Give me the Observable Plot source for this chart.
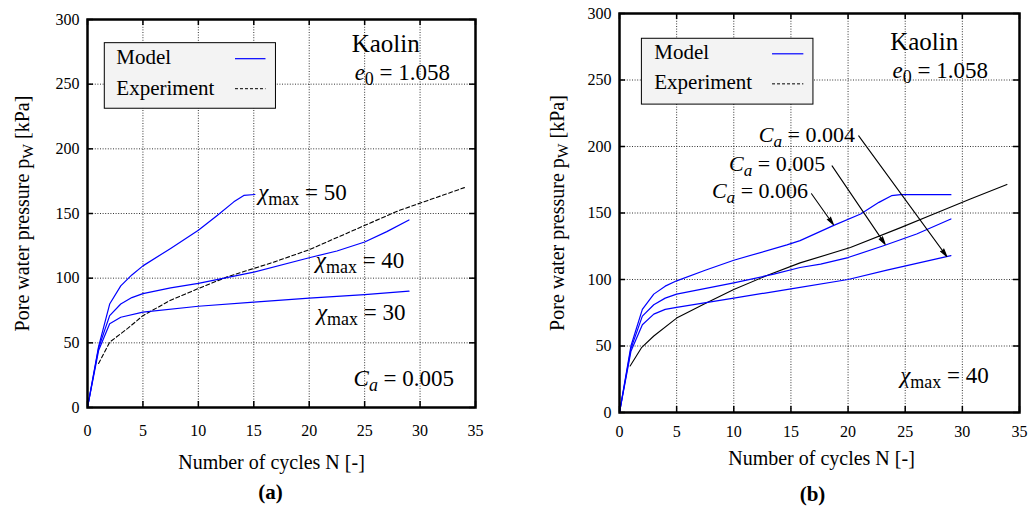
<!DOCTYPE html>
<html><head><meta charset="utf-8">
<script src="https://cdn.jsdelivr.net/npm/d3@7"></script>
<script src="https://cdn.jsdelivr.net/npm/@observablehq/plot@0.6"></script>
<style>
body{margin:0;background:#fff}
#wrap{position:relative;width:1029px;height:511px;overflow:hidden}
#wrap svg{position:absolute;top:0}
</style>
</head><body><div id="wrap"></div>
<script>
// ---------- data ----------
const xTicks = [0, 5, 10, 15, 20, 25, 30, 35];
const yTicks = [0, 50, 100, 150, 200, 250, 300];

// Panel (a): Ca = 0.005, varying chi_max
const nChi50 = [0, 1, 2, 3, 4, 5, 7.5, 10, 11.7, 13.2, 14.1, 15.1];
const pChi50 = [0, 47, 80, 94, 102.5, 109.5, 123, 137, 148.5, 159, 164, 164.7];
const nChi40 = [0, 1, 2, 3, 4, 5, 7.5, 10, 15, 20, 22.5, 25, 27, 29];
const pChi40 = [0, 46, 71, 80, 85, 88, 92.5, 96, 104.7, 115.8, 121, 128, 136, 145];
const nChi30 = [0, 1, 2, 3, 5, 10, 15, 20, 25, 29];
const pChi30 = [0, 44, 64.7, 69.8, 73.7, 78.3, 81.5, 84.5, 87.3, 90];
const nExpA = [1, 2, 3.6, 5, 7.5, 10, 12.6, 15, 17, 20, 24, 28, 34];
const pExpA = [34, 50.5, 61, 71, 83, 92, 101, 107.5, 113, 122, 137, 152, 170];

// Panel (b): chi_max = 40, varying Ca
const nCa006 = [0, 1, 2, 3, 4, 5, 7.5, 10, 14.65, 15.8, 18.7, 21.1, 22.7, 23.8, 24.6, 29];
const pCa006 = [0, 50, 77.5, 89, 95, 99, 107, 114.5, 126, 129.2, 140.5, 149.3, 158, 163, 163.8, 163.8];
const nCa005 = [0, 1, 2, 3, 4, 5, 10, 13.5, 15.8, 17.6, 20, 23.1, 26, 29];
const pCa005 = [0, 48, 72.5, 81, 86, 89, 97.5, 104, 109, 111.5, 116.5, 125.4, 134.2, 145.5];
const nCa004 = [0, 1, 2, 3, 4, 5, 10, 15, 20, 23.4, 29];
const pCa004 = [0, 46, 66, 74, 77.5, 79, 86, 93, 100, 107, 118];
const nExpB = [0.93, 1.95, 3, 5, 7.5, 10, 12.9, 15.8, 20.2, 24.6, 27.5, 30.7, 33.9];
const pExpB = [35, 49, 57.5, 71, 82, 92.5, 103, 112.5, 124, 139, 149.3, 160.6, 171.5];

const rows = (name, ns, ps) => ns.map((n, i) => ({series: name, n, p: ps[i]}));

// ---------- annotations ----------
const FONT = "'Liberation Serif', 'Times New Roman', serif";

const panelA = {
  left: 0, width: 515,
  margin: {top: 19, right: 40, bottom: 104, left: 87},
  model: [...rows("chi50", nChi50, pChi50), ...rows("chi40", nChi40, pChi40), ...rows("chi30", nChi30, pChi30)],
  exp: rows("exp", nExpA, pExpA),
  expDash: "4,2.5",
  legendBox: {x1: 1.56, x2: 17, y1: 231, y2: 281.7},
  legendText: [{x: 2.6, y: 270.9, t: "Model"}, {x: 2.6, y: 246.5, t: "Experiment"}],
  legendModel: {x1: 13.35, x2: 16.1, y: 269.7},
  legendExp: {x1: 13.35, x2: 16.1, y: 246.5},
  notesMiddle: [{x: 26.9, y: 281, t: "Kaolin", s: 25}, {x: 28.4, y: 259, t: "*e*_{0} = 1.058", s: 23}],
  notesStart: [
    {x: 15.4, y: 166.5, t: "*χ*_{max} = 50", s: 23},
    {x: 20.6, y: 113.7, t: "*χ*_{max} = 40", s: 23},
    {x: 20.7, y: 73.7, t: "*χ*_{max} = 30", s: 23},
    {x: 24.0, y: 22.2, t: "*C*_{*a*} = 0.005", s: 23}
  ],
  notesEnd: [],
  arrows: [],
  xPad: 17, yPad: 8,
  xLabelDx: -10, xLabelDy: 55, yLabelDx: -65,
  tag: "(a)", tagDx: -11, tagDy: 85
};

const panelB = {
  left: 515, width: 514,
  margin: {top: 13, right: 10, bottom: 99, left: 104},
  model: [...rows("ca006", nCa006, pCa006), ...rows("ca005", nCa005, pCa005), ...rows("ca004", nCa004, pCa004)],
  exp: rows("exp", nExpB, pExpB),
  expDash: null,
  legendBox: {x1: 1.96, x2: 16.97, y1: 231.5, y2: 281},
  legendText: [{x: 3.04, y: 270.9, t: "Model"}, {x: 3.04, y: 248.3, t: "Experiment"}],
  legendModel: {x1: 13.39, x2: 16.13, y: 269.7},
  legendExp: {x1: 13.39, x2: 16.13, y: 247.1},
  notesMiddle: [{x: 26.66, y: 278.4, t: "Kaolin", s: 25}, {x: 28.06, y: 257, t: "*e*_{0} = 1.058", s: 23}],
  notesStart: [{x: 24.56, y: 27.6, t: "*χ*_{max} = 40", s: 23}],
  notesEnd: [
    {x: 20.6, y: 208.5, t: "*C*_{*a*} = 0.004", s: 22},
    {x: 18.0, y: 187, t: "*C*_{*a*} = 0.005", s: 22},
    {x: 16.5, y: 166.5, t: "*C*_{*a*} = 0.006", s: 22}
  ],
  arrows: [
    {x1: 20.93, y1: 208, x2: 28.64, y2: 117.3},
    {x1: 18.6, y1: 185.4, x2: 23.25, y2: 126.4},
    {x1: 16.8, y1: 164.5, x2: 18.72, y2: 141.2}
  ],
  xPad: 13, yPad: 8,
  xLabelDx: 2, xLabelDy: 46, yLabelDx: -62,
  tag: "(b)", tagDx: -7, tagDy: 82
};

// ---------- rendering ----------
function richify(svg) {
  d3.select(svg).selectAll("text").each(function () {
    const s = this.textContent;
    if (!/[*_]/.test(s)) return;
    const fs = parseFloat(getComputedStyle(this).fontSize) || 20;
    const sel = d3.select(this);
    sel.text(null);
    const re = /_\{([^}]*)\}|\*([^*]+)\*|([^*_]+)/g;
    let m, shift = 0;
    while ((m = re.exec(s))) {
      if (m[1] !== undefined) {
        const italic = m[1].includes("*");
        const sub = fs * 0.22;
        const ts = sel.append("tspan").attr("font-size", fs * 0.78).attr("dy", sub - shift);
        shift = sub;
        if (italic) ts.attr("font-style", "italic");
        ts.text(m[1].replace(/\*/g, ""));
      } else {
        const ts = sel.append("tspan").attr("dy", -shift);
        shift = 0;
        if (m[2] !== undefined) ts.attr("font-style", "italic");
        ts.text(m[2] !== undefined ? m[2] : m[3]);
      }
    }
  });
}

function drawPanel(P) {
  const height = 511;
  const W = P.width - P.margin.left - P.margin.right;
  const H = height - P.margin.top - P.margin.bottom;
  const tl = 6;
  const marks = [
    Plot.ruleX(xTicks.filter(d => d > 0 && d < 35), {stroke: "#000", strokeWidth: 0.8, strokeDasharray: "1,1.6"}),
    Plot.ruleY(yTicks.filter(d => d > 0 && d < 300), {stroke: "#000", strokeWidth: 0.8, strokeDasharray: "1,1.6"}),
    Plot.ruleX(xTicks, {stroke: "#000", strokeWidth: 1.5, insetTop: H - tl}),
    Plot.ruleX(xTicks, {stroke: "#000", strokeWidth: 1.5, insetBottom: H - tl}),
    Plot.ruleY(yTicks, {stroke: "#000", strokeWidth: 1.5, insetRight: W - tl}),
    Plot.ruleY(yTicks, {stroke: "#000", strokeWidth: 1.5, insetLeft: W - tl}),
    Plot.rect([P.legendBox], {x1: "x1", x2: "x2", y1: "y1", y2: "y2", fill: "#f3f3f3", stroke: "#000", strokeWidth: 1}),
    Plot.text(P.legendText, {x: "x", y: "y", text: "t", textAnchor: "start", fontSize: 21}),
    Plot.ruleY([P.legendModel], {x1: "x1", x2: "x2", y: "y", stroke: "#0000ff", strokeWidth: 1.2}),
    Plot.ruleY([P.legendExp], {x1: "x1", x2: "x2", y: "y", stroke: "#000", strokeWidth: 1, strokeDasharray: "3,2"}),
    Plot.line(P.exp, {x: "n", y: "p", stroke: "#000", strokeWidth: 1.1, strokeDasharray: P.expDash || undefined}),
    Plot.line(P.model, {x: "n", y: "p", z: "series", stroke: "#0000ff", strokeWidth: 1.2}),
    Plot.text(P.notesMiddle, {x: "x", y: "y", text: "t", fontSize: "s", textAnchor: "middle"}),
    Plot.text(P.notesStart, {x: "x", y: "y", text: "t", fontSize: "s", textAnchor: "start"}),
    Plot.text(P.notesEnd, {x: "x", y: "y", text: "t", fontSize: "s", textAnchor: "end"}),
    Plot.arrow(P.arrows, {x1: "x1", y1: "y1", x2: "x2", y2: "y2", stroke: "#000", fill: "#000", strokeWidth: 1.1, headLength: 11, headAngle: 28}),
    Plot.frame({stroke: "#000", strokeWidth: 2.5}),
    Plot.axisX({ticks: xTicks, tickSize: 0, tickPadding: P.xPad, label: null, fontSize: 16}),
    Plot.axisY({ticks: yTicks, tickSize: 0, tickPadding: P.yPad, label: null, fontSize: 16}),
    Plot.text(["Number of cycles N [-]"], {frameAnchor: "bottom", lineAnchor: "middle", textAnchor: "middle", dx: P.xLabelDx, dy: P.xLabelDy, fontSize: 20}),
    Plot.text(["Pore water pressure p_{W} [kPa]"], {frameAnchor: "left", rotate: -90, lineAnchor: "middle", textAnchor: "middle", dx: P.yLabelDx, fontSize: 20}),
    Plot.text([P.tag], {frameAnchor: "bottom", lineAnchor: "middle", textAnchor: "middle", dx: P.tagDx, dy: P.tagDy, fontSize: 21, fontWeight: "bold"})
  ];
  const svg = Plot.plot({
    width: P.width, height,
    marginTop: P.margin.top, marginRight: P.margin.right, marginBottom: P.margin.bottom, marginLeft: P.margin.left,
    x: {domain: [0, 35]},
    y: {domain: [0, 300]},
    style: {fontFamily: FONT, fontSize: "16px", color: "#000", background: "transparent", overflow: "visible"},
    marks
  });
  svg.style.left = P.left + "px";
  document.getElementById("wrap").appendChild(svg);
  richify(svg);
}

drawPanel(panelA);
drawPanel(panelB);
</script></body></html>
